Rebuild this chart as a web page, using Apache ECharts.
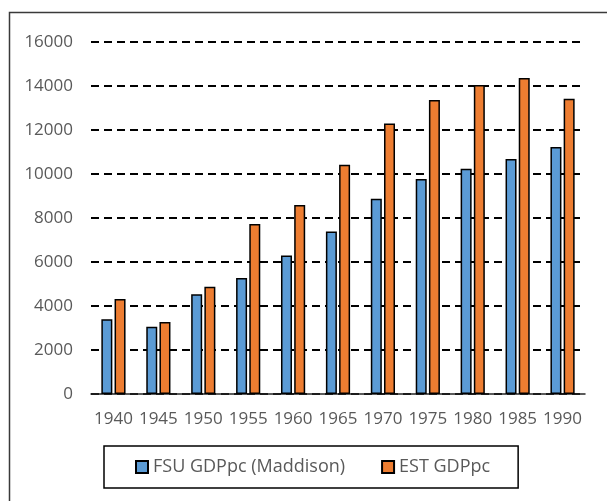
<!DOCTYPE html>
<html>
<head>
<meta charset="utf-8">
<script src="https://cdn.jsdelivr.net/npm/echarts@6/dist/echarts.min.js"></script>
<style>
  html, body { margin: 0; padding: 0; background: #fff; }
  #gdp { width: 607px; height: 501px; }
</style>
</head>
<body>
<div id="gdp"></div>
<script>
// years on the x axis
var years = ['1940', '1945', '1950', '1955', '1960', '1965', '1970', '1975', '1980', '1985', '1990'];
// FSU GDP per capita (Maddison)
var fsuGdp = [3400, 3060, 4530, 5270, 6290, 7390, 8880, 9770, 10240, 10680, 11230];
// EST GDP per capita
var estGdp = [4320, 3270, 4880, 7730, 8590, 10420, 12290, 13360, 14050, 14360, 13420];
var yTicks = { min: 0, max: 16000, interval: 2000 };

var font = '"Open Sans", "Liberation Sans", sans-serif';
var chart = echarts.init(document.getElementById('gdp'));

chart.setOption({
  animation: false,
  textStyle: { fontFamily: font },
  graphic: [{
    type: 'rect',
    shape: { x: 9.5, y: 12.5, width: 640, height: 540 },
    style: { fill: 'none', stroke: '#3a3a3a', lineWidth: 1.5 },
    silent: true
  }],
  grid: { left: 91, right: 22, top: 42, bottom: 107 },
  legend: {
    data: ['FSU GDPpc (Maddison)', 'EST GDPpc'],
    left: 104,
    top: 446,
    icon: 'rect',
    itemWidth: 12,
    itemHeight: 12,
    itemGap: 36,
    padding: [12, 28, 12, 31],
    borderColor: '#000',
    borderWidth: 1.5,
    textStyle: { fontFamily: font, fontSize: 18, color: '#595959' }
  },
  xAxis: {
    type: 'category',
    data: years,
    axisLine: { lineStyle: { color: '#262626', width: 1.5 } },
    axisTick: { show: false },
    axisLabel: { interval: 0, fontFamily: font, fontSize: 17, color: '#595959', margin: 17 }
  },
  yAxis: {
    type: 'value',
    min: yTicks.min,
    max: yTicks.max,
    interval: yTicks.interval,
    axisLine: { show: false },
    axisTick: { show: false },
    axisLabel: {
      fontFamily: font, fontSize: 17, color: '#595959', margin: 18,
      formatter: function (v) { return String(v); }
    },
    splitLine: { lineStyle: { color: '#000', width: 2, type: [8, 5] } }
  },
  series: [
    {
      name: 'FSU GDPpc (Maddison)',
      type: 'bar',
      data: fsuGdp,
      barWidth: 11,
      barGap: '20%',
      itemStyle: { color: '#5B9BD5', borderColor: '#000', borderWidth: 1.5 }
    },
    {
      name: 'EST GDPpc',
      type: 'bar',
      data: estGdp,
      barWidth: 11,
      itemStyle: { color: '#ED7D31', borderColor: '#000', borderWidth: 1.5 }
    }
  ]
});
</script>
</body>
</html>
